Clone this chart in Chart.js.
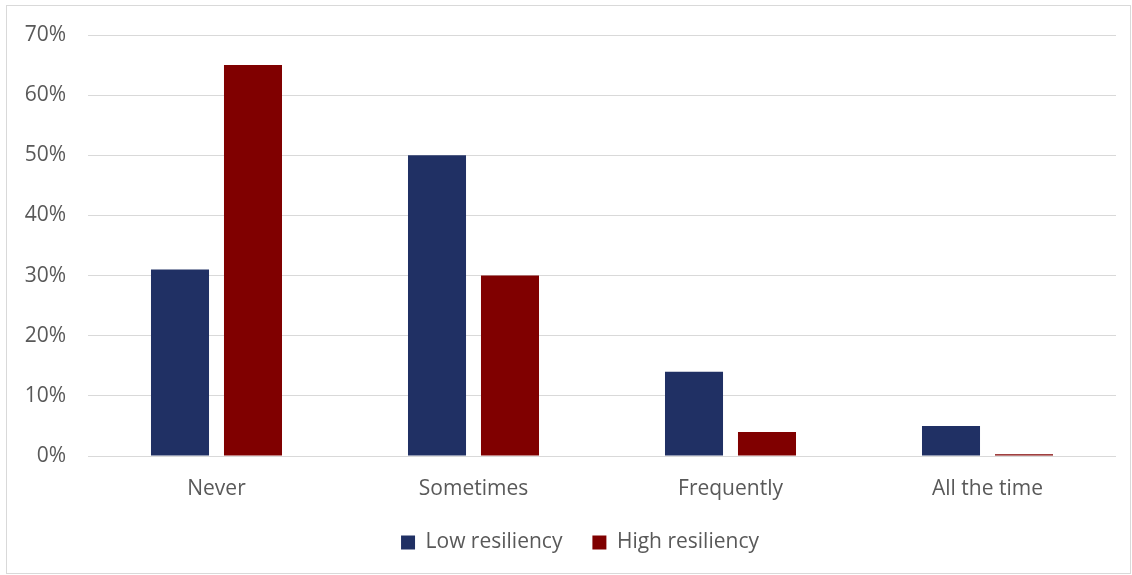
<!DOCTYPE html>
<html>
<head>
<meta charset="utf-8">
<script src="https://cdn.jsdelivr.net/npm/chart.js@4.4.1/dist/chart.umd.min.js"></script>
<style>
    html, body { margin: 0; padding: 0; background: #fff; }
    #wrap { position: relative; width: 1132px; height: 575px; }
    #frame { position: absolute; left: 6px; top: 5px; width: 1125px; height: 569px; border: 1px solid #d9d9d9; box-sizing: border-box; }
    canvas { position: absolute; left: 0; top: 0; }
</style>
</head>
<body>
<div id="wrap">
    <div id="frame"></div>
    <canvas id="chart" width="1132" height="575"></canvas>
</div>
<script>
const categories = ["Never", "Sometimes", "Frequently", "All the time"];
const lowResiliency = [31, 50, 14, 5];
const highResiliency = [65, 30, 4, 0.3];
const yTicks = [0, 10, 20, 30, 40, 50, 60, 70];

const textColor = '#595959';
const gridColor = '#d9d9d9';
const font = { family: "'Open Sans', sans-serif", size: 21 };

// keep the wide gap between legend items without the legend eating vertical space,
// and nudge it so it sits centred like the original
const legendTweak = {
    id: 'legendTweak',
    beforeInit(chart) {
        const legend = chart.legend;
        const fit = legend.fit;
        const draw = legend.draw;
        legend.fit = function () {
            fit.call(this);
            this.height = 75;
        };
        legend.draw = function () {
            const ctx = this.ctx;
            ctx.save();
            ctx.translate(22, 2);
            draw.call(this);
            ctx.restore();
        };
    }
};

new Chart(document.getElementById('chart').getContext('2d'), {
    type: 'bar',
    data: {
        labels: categories,
        datasets: [
            { label: 'Low resiliency', data: lowResiliency, backgroundColor: '#203064' },
            { label: 'High resiliency', data: highResiliency, backgroundColor: '#800000' }
        ]
    },
    plugins: [legendTweak],
    options: {
        responsive: false,
        animation: false,
        categoryPercentage: 0.568,
        barPercentage: 0.795,
        layout: { padding: { top: 35, right: 16, bottom: 0, left: 0 } },
        plugins: {
            tooltip: { enabled: false },
            legend: {
                position: 'bottom',
                labels: {
                    color: textColor,
                    font: font,
                    boxWidth: 14,
                    boxHeight: 14,
                    padding: 30
                }
            }
        },
        scales: {
            x: {
                grid: { display: false, drawTicks: false },
                border: { display: false },
                ticks: { color: textColor, font: font, padding: 20 },
                afterFit: scale => { scale.height = 44; }
            },
            y: {
                min: 0,
                max: 70,
                afterBuildTicks: scale => { scale.ticks = yTicks.map(v => ({ value: v })); },
                grid: { color: gridColor, lineWidth: 1, drawTicks: false },
                border: { display: false },
                ticks: {
                    color: textColor,
                    font: font,
                    padding: 22,
                    callback: v => v + '%'
                },
                afterFit: scale => { scale.width = 88; }
            }
        }
    }
});
</script>
</body>
</html>
